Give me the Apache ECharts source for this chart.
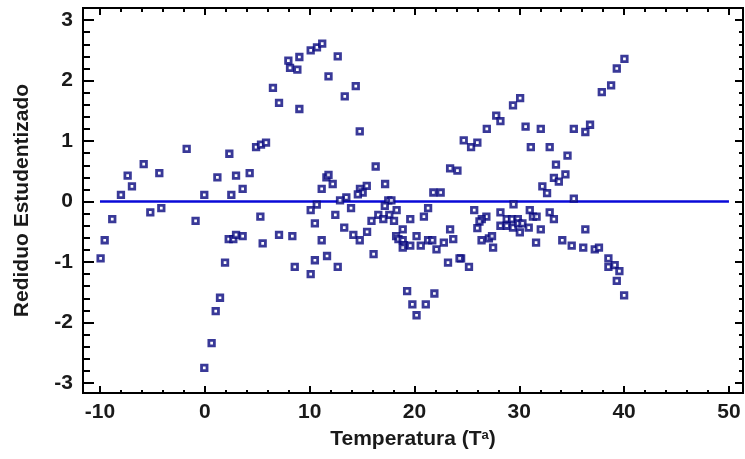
<!DOCTYPE html>
<html>
<head>
<meta charset="utf-8">
<script src="https://cdn.jsdelivr.net/npm/echarts@6/dist/echarts.min.js"></script>
<style>
  html, body { margin: 0; padding: 0; background: #fff; }
  #chart { width: 745px; height: 459px; }
</style>
</head>
<body>
<div id="chart"></div>
<script>
// temperatura (eje x) y residuo estudentizado (eje y)
var tempX = [-9.94, -9.55, -8.83, -8.0, -7.36, -6.95, -5.83, -5.2, -4.34, -4.15,
  -1.73, -0.88, -0.05, -0.05, 0.65, 1.04, 1.2, 1.45, 1.93, 2.28,
  2.34, 2.53, 2.72, 2.98, 2.98, 3.61, 3.61, 4.28, 4.89, 5.3,
  5.36, 5.52, 5.84, 6.5, 7.08, 9.02, 7.97, 8.13, 8.83, 9.02,
  10.1, 10.7, 11.2, 12.68, 11.8, 14.4, 13.35, 14.78, 16.3, 11.6,
  11.8, 12.2, 11.15, 17.2, 15.45, 14.8, 15.06, 14.6, 13.5, 12.9,
  17.5, 17.8, 21.8, 22.5, 23.4, 10.68, 10.1, 12.45, 13.95, 10.5,
  7.08, 8.35, 11.15, 13.3, 14.17, 14.78, 15.48, 11.66, 10.5, 8.58,
  10.1, 12.68, 16.1, 17.17, 18.3, 17.6, 16.55, 15.9, 17.03, 18.05,
  18.88, 18.25, 18.47, 18.88, 19.0, 18.88, 19.6, 19.6, 20.2, 20.9,
  21.3, 20.6, 21.3, 21.7, 22.1, 22.8, 23.4, 23.7, 23.2, 19.3,
  21.9, 19.8, 21.08, 20.2, 40.03, 39.3, 38.76, 37.87, 30.08, 29.4,
  27.8, 28.2, 26.9, 24.7, 25.4, 26.0, 24.1, 30.6, 32.05, 35.2,
  36.3, 36.75, 31.1, 32.9, 34.6, 33.5, 33.3, 33.77, 34.4, 32.2,
  32.65, 35.2, 29.45, 25.7, 28.2, 31.0, 32.9, 33.3, 26.86, 26.42,
  26.2, 26.0, 28.8, 29.3, 29.86, 28.2, 28.8, 29.4, 29.9, 30.3,
  30.9, 30.05, 31.3, 31.65, 32.05, 36.3, 26.4, 27.1, 27.4, 27.5,
  31.6, 34.1, 35.0, 36.1, 37.2, 37.6, 38.5, 38.5, 39.1, 39.55,
  39.3, 40.0, 24.45, 24.3, 25.2]
var residuoY = [-0.94, -0.64, -0.29, 0.11, 0.43, 0.25, 0.62, -0.18, 0.47, -0.11,
  0.87, -0.32, 0.11, -2.75, -2.34, -1.81, 0.40, -1.59, -1.01, -0.62,
  0.79, 0.11, -0.62, 0.43, -0.55, 0.21, -0.57, 0.47, 0.90, -0.25,
  0.94, -0.69, 0.975, 1.88, 1.63, 1.53, 2.33, 2.21, 2.18, 2.39,
  2.50, 2.55, 2.61, 2.40, 2.07, 1.91, 1.74, 1.16, 0.58, 0.40,
  0.44, 0.29, 0.21, 0.29, 0.26, 0.21, 0.15, 0.12, 0.07, 0.02,
  0.02, 0.02, 0.15, 0.15, 0.55, -0.05, -0.14, -0.22, -0.11, -0.36,
  -0.55, -0.57, -0.64, -0.43, -0.55, -0.64, -0.50, -0.90, -0.97, -1.08,
  -1.20, -1.08, -0.87, -0.07, -0.14, -0.22, -0.22, -0.32, -0.29, -0.32,
  -0.46, -0.57, -0.62, -0.64, -0.72, -0.76, -0.73, -0.29, -0.57, -0.25,
  -0.11, -0.73, -0.64, -0.64, -0.79, -0.68, -0.46, -0.62, -1.01, -1.48,
  -1.52, -1.70, -1.70, -1.88, 2.36, 2.20, 1.92, 1.81, 1.71, 1.59,
  1.42, 1.33, 1.20, 1.01, 0.90, 0.975, 0.51, 1.24, 1.20, 1.20,
  1.15, 1.27, 0.90, 0.90, 0.76, 0.61, 0.39, 0.33, 0.45, 0.25,
  0.14, 0.05, -0.045, -0.14, -0.18, -0.14, -0.18, -0.29, -0.25, -0.29,
  -0.33, -0.44, -0.29, -0.29, -0.29, -0.40, -0.40, -0.43, -0.36, -0.36,
  -0.43, -0.51, -0.25, -0.25, -0.46, -0.46, -0.64, -0.61, -0.57, -0.76,
  -0.68, -0.64, -0.73, -0.76, -0.79, -0.76, -0.94, -1.08, -1.05, -1.15,
  -1.31, -1.55, -0.94, -0.94, -1.08]

// linea horizontal en cero
var lineaX = [-10, 50]
var lineaY = [0, 0]

// marcas de los ejes
var xMajor = [-10, 0, 10, 20, 30, 40, 50]
var xMinor = [-8, -6, -4, -2, 2, 4, 6, 8, 12, 14, 16, 18, 22, 24, 26, 28, 32, 34, 36, 38, 42, 44, 46, 48]
var yMajor = [-3, -2, -1, 0, 1, 2, 3]
var yMinor = [-2.8, -2.6, -2.4, -2.2, -1.8, -1.6, -1.4, -1.2, -0.8, -0.6, -0.4, -0.2,
  0.2, 0.4, 0.6, 0.8, 1.2, 1.4, 1.6, 1.8, 2.2, 2.4, 2.6, 2.8]

var font = 'Liberation Sans, Arial, sans-serif'
var xMin = -11.62, xMax = 51.34
var yMin = -3.165, yMax = 3.2

var puntos = tempX.map(function (x, i) { return [x, residuoY[i]] })
var linea = lineaX.map(function (x, i) { return [x, lineaY[i]] })

// eje con solo marcas (sin linea ni etiquetas)
function tickAxis(pos, min, max, values, len) {
  return {
    type: 'value', position: pos, min: min, max: max,
    axisLine: { show: false, onZero: false },
    splitLine: { show: false },
    axisTick: { inside: true, length: len, customValues: values, lineStyle: { color: '#000', width: 2 } },
    axisLabel: { show: false }
  }
}

var xMain = tickAxis('bottom', xMin, xMax, xMajor, 7)
xMain.axisLabel = { show: true, customValues: xMajor, margin: 9, color: '#1a1a1a', fontFamily: font, fontWeight: 'bold', fontSize: 21 }
xMain.name = 'Temperatura (T{sup|a})'
xMain.nameLocation = 'middle'
xMain.nameGap = 36
xMain.nameTextStyle = {
  color: '#1a1a1a', fontFamily: font, fontWeight: 'bold', fontSize: 21,
  rich: { sup: { fontFamily: font, fontWeight: 'bold', fontSize: 13, color: '#1a1a1a', verticalAlign: 'top' } }
}

var yMain = tickAxis('left', yMin, yMax, yMajor, 11)
yMain.axisLabel = { show: true, customValues: yMajor, margin: 10, color: '#1a1a1a', fontFamily: font, fontWeight: 'bold', fontSize: 21 }
yMain.name = 'Rediduo Estudentizado'
yMain.nameLocation = 'middle'
yMain.nameGap = 50
yMain.nameTextStyle = { color: '#1a1a1a', fontFamily: font, fontWeight: 'bold', fontSize: 21 }

var option = {
  animation: false,
  backgroundColor: '#fff',
  grid: {
    left: 83, right: 2, top: 8, bottom: 66,
    show: true, borderColor: '#000', borderWidth: 2,
    containLabel: false, outerBoundsMode: 'none'
  },
  xAxis: [
    xMain,
    tickAxis('bottom', xMin, xMax, xMinor, 3),
    tickAxis('top', xMin, xMax, xMajor, 7),
    tickAxis('top', xMin, xMax, xMinor, 4)
  ],
  yAxis: [
    yMain,
    tickAxis('left', yMin, yMax, yMinor, 7),
    tickAxis('right', yMin, yMax, yMajor, 8),
    tickAxis('right', yMin, yMax, yMinor, 4)
  ],
  series: [
    {
      type: 'line',
      data: linea,
      symbol: 'none',
      lineStyle: { color: '#0a0ad8', width: 2.5 },
      z: 2
    },
    {
      type: 'scatter',
      data: puntos,
      symbol: 'rect',
      symbolSize: 5.5,
      itemStyle: { color: '#fff', borderColor: '#08087e', borderWidth: 2.8 },
      z: 3
    }
  ]
}

var chart = echarts.init(document.getElementById('chart'))
chart.setOption(option)
</script>
</body>
</html>
